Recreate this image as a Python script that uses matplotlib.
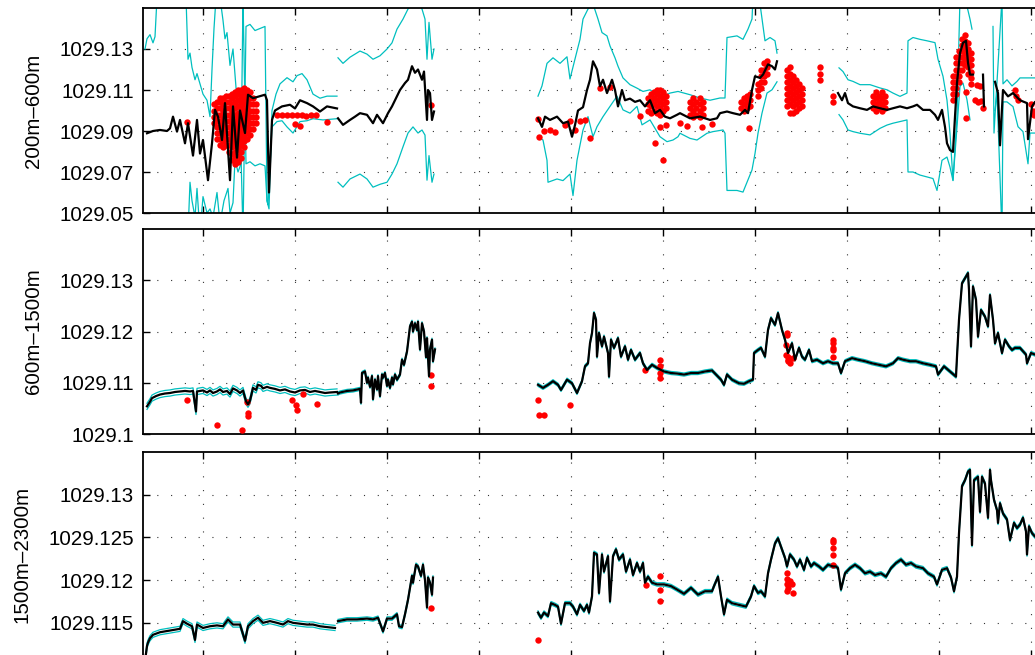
import numpy as np
import matplotlib
matplotlib.use("Agg")
import matplotlib.pyplot as plt

plt.rcParams['font.family'] = ['Liberation Sans', 'DejaVu Sans']

# Density values are stored as (rho - 1029) * 1000 ; x = profile number
BASE = 1029.0
xticks = [203, 295, 387, 479, 571, 663, 755, 847, 939, 1031]
xlim = (143, 1100)

CYAN = (0.0, 0.75, 0.75)

# ======================= Panel 1 : 200m-600m =======================
p1_label = '200m\u2013600m'
p1_ylim = (50, 150)
p1_yticks = [50, 70, 90, 110, 130]
p1_yticklabels = ['1029.05', '1029.07', '1029.09', '1029.11', '1029.13']

p1_tA = [147,153,160,167,170,173,177,180,185,188,193,197,200,203,208,212,215,218,222,225,
         230,233,237,240,245,248,253,260,265,267,269,272,275,282,290,295,300,307,313,320,327,337]
p1_bA = [88.9,90,90.5,90,91.3,97,89.7,95.4,84,93.8,78,95.4,79,85.6,66,84,100.3,97,85.6,103.6,
         66,102,77,100,89,107.7,106,107,107.7,105,60,95.4,100,102,102.8,101,105,103.6,102,99.5,102,101]
p1_uA_t = [145,147,150,153,155,157,160,167,170,175,182,186,188,190,192,195,197,200,203,207,
           210,212,214,216,220,223,225,227,230,233,237,240,243,246,250,255,260,265,267,269,
           272,276,280,287,293,297,302,307,313,320,327,337]
p1_uA = [130,135,137,133,136,155,155,154,155,155,155,155,125,128,121,115,118,113,108,105,
         97,120,140,155,155,144,135,138,122,130,105,97,40,141,142,139,140,141,56,52,
         100,108,113,116,114,117,118,115,108,106,107,107]
p1_lA_t = [145,160,175,188,190,192,195,197,200,203,207,210,213,217,220,224,228,230,233,235,
           238,241,243,246,250,255,260,265,267,268,272,277,282,287,293,300,307,313,323,337]
p1_lA = [40,40,40,40,65,56,48,62,40,58,50,52,48,60,45,56,62,50,55,76,
         70,74,155,74,75,73,74,73,56,54,92,94.6,95,92,89,94.6,95,96,95.4,96]

p1_tB = [338,343,350,355,360,367,373,377,383,388,392,395,400,405,408,412,415,418,422,424,427,428,430,432,434]
p1_bB = [96.2,93,95.4,97,98.7,97.9,93.8,97.9,93.8,98.7,102,105,110,113.4,115,121.6,118.4,120,115,119,95.4,110,108.5,95.4,99.5]
p1_cB_t = [338,343,350,360,367,373,380,387,392,397,403,408,413,418,422,425,427,429,432,434]
p1_uB = [125.7,123,126,129,127.5,125,126.7,130,133,139.7,144.6,149.5,152,152,149.5,144.6,125,143,125,130]
p1_lB = [65,62.6,66.6,69,66.6,62.6,64,65,69,74,82.3,89,92,89,90.5,88,66,78,65,69]

p1_tC = [538,542,545,550,557,563,568,572,575,578,583,587,590,593,597,600,603,607,612,615,
         618,622,625,630,635,640,645,650,655,660,665,670,677,680,690,700,710,717,720,727,
         733,740,745,748,752,755,760,763,768,772,775,777]
p1_bC = [96.2,92,97,95.4,97,93.8,94.6,87.2,92.9,100,101.6,110,115,124,120,111.8,115,108.5,115,110,
         102,110,105,105.8,104.2,105,102,105,98.7,100.3,97,96.2,97.9,98.7,96.2,97,95.4,96.2,98.7,99.5,
         98.7,97.9,100.3,98.7,110,116.7,115.9,117.5,122.5,121.6,120,124]
p1_uC_t = [538,542,547,553,560,567,570,577,580,583,588,593,598,602,607,610,615,618,623,630,
           637,643,650,657,663,670,678,690,700,710,720,725,727,737,743,748,752,753,760,765,770,775,777]
p1_uC = [107,112,123,125.7,123,126.2,115.4,129,134.7,144.6,149.5,152,144.6,138,136.4,131.5,125.7,121.6,115.9,112.6,
         110.9,109.3,110.1,107.7,106.9,108.5,109.3,107.7,106.1,105,106.1,106.1,135.6,136.4,134.7,139.7,144.6,155,152,134,
         135.6,134,128]
p1_lC_t = [538,543,547,548,557,563,570,573,577,583,588,593,597,603,610,617,623,630,637,642,
           650,660,667,673,678,680,690,697,707,713,723,725,727,737,743,747,752,755,758,762,767,772,777]
p1_lC = [87.2,85.6,75.7,65,66.6,65.8,69,58.5,75.7,90.5,97,87.2,92.1,97,102,107,100.3,98.7,102,93,
         95.4,87.2,84.8,85.6,87.2,88.9,86.4,85.6,88.9,89.7,90.5,88.9,61,61,60.2,65,71,79,88.9,98.7,
         108.5,110.1,114]

p1_tD = [838,842,845,848,853,860,867,873,880,887,893,900,907,913,917,923,930,935,938,942,
         945,947,950,953,955,957,960,963,966,968,970,973]
p1_bD = [108.5,105,108.5,103.6,102,101.1,100.3,102,101.1,100.3,101.1,102,101.1,102,102.8,100.3,100.3,97.9,95.4,100.3,
         92,84,80.7,79.8,97,113.4,128,133,134,123.3,117.5,117.5]
p1_uD_t = [839,843,848,853,860,870,880,887,893,900,907,908,913,920,927,935,938,943,947,950,953,957,960,965,970,972]
p1_uD = [120.8,119,115,114.2,112.6,112.6,111,110.1,108.5,106.9,108.5,134,135.6,134.7,134,133.1,125,116.7,105,88.9,
         66,97,155,155,144.6,139.7]
p1_lD_t = [839,843,848,853,860,870,880,887,893,900,907,908,913,920,927,933,937,942,947,950,953,957,960,963,967,970]
p1_lD = [98,95.4,90.5,89.7,88.9,88.1,91.3,92.9,93.8,94.6,95.4,70,70,68.5,67.6,66.8,61,75.7,77.3,72.4,
         65.8,92.1,111.8,113.4,105.2,95.4]

p1_tE = [983, 984]
p1_bE = [117.5, 102]

p1_tF = [995,998,1000,1003,1008,1013,1020,1027,1028,1032,1035,1040]
p1_bF = [114,108.5,83,110,106.9,108.5,105,103.6,86,102,104.2,104]
p1_uF_t = [993,994,997,1002,1003,1007,1012,1017,1020,1027,1035,1040]
p1_uF = [141,89,114,155,113,115,112,114.2,115.9,115.9,115.9,116]
p1_lF_t = [995,997,1002,1003,1007,1013,1018,1023,1028,1030,1035,1040]
p1_lF = [100,108.5,40,104.2,104.2,101.9,92.1,89.7,74,89,89,89]

p1_red = [
    (187, [94.6]), (277, [97.9]), (282, [97.9]), (287, [97.9]), (292, [98.0]), (295, [93.4]),
    (297, [97.9]), (300, [92.5]), (302, [97.9]), (306, [97.5]), (311, [97.9]), (316, [97.9]),
    (327, [94.6]), (431, [102.8]),
    (214, [94, 97, 100, 103]),
    (217, [86, 89, 92, 95, 98, 101, 104]),
    (220, [83, 86, 89, 92, 95, 98, 101, 104, 106]),
    (223, [82, 85, 88, 91, 94, 97, 100, 103, 106]),
    (226, [83, 86, 89, 92, 95, 98, 101, 104, 107]),
    (229, [80, 83, 86, 89, 92, 95, 98, 101, 104, 107]),
    (232, [76, 79, 82, 85, 88, 91, 94, 97, 100, 103, 106, 108]),
    (235, [74, 77, 80, 83, 86, 89, 92, 95, 98, 101, 104, 107, 109]),
    (238, [75, 78, 81, 84, 87, 90, 93, 96, 99, 102, 105, 108, 110]),
    (241, [77, 80, 83, 86, 89, 92, 95, 98, 101, 104, 107, 110]),
    (244, [82, 85, 88, 91, 94, 97, 100, 103, 106, 109, 111]),
    (247, [86, 89, 92, 95, 98, 101, 104, 107, 110]),
    (250, [88, 91, 94, 97, 100, 103, 106, 109]),
    (253, [91, 94, 97, 100, 103, 106]),
    (256, [94, 97, 100, 103]),
    (538, [96]), (539, [87]), (544, [90]), (550, [90.5]), (555, [89.5]), (565, [93]), (570, [95]),
    (575, [90.5]), (580, [95]), (585, [95.5]), (590, [86.4]), (600, [111]), (610, [111.5]),
    (640, [97.5]), (655, [84]), (663, [75.7]),
    (648, [100, 103, 106]), (651, [99, 102, 105, 108]), (654, [100, 103, 106, 109]),
    (657, [99, 102, 105, 108, 110]), (660, [92, 98, 101, 104, 107, 110]), (663, [100, 103, 106, 109]),
    (666, [93, 101, 104, 107]),
    (680, [94]), (687, [92.4]), (690, [98, 101, 104]), (693, [97, 100, 103, 106]), (696, [98, 101, 104]),
    (700, [97, 100, 103, 106]), (702, [92]), (703, [98, 101, 104]), (712, [93.4]),
    (741, [101, 104]), (744, [100, 103, 106]), (747, [101, 104, 107]), (749, [91.3]), (750, [102, 105, 108]),
    (758, [107, 110, 113]), (761, [111, 114, 117, 120]), (764, [114, 117, 120, 123]), (767, [118, 121, 124]),
    (787, [102, 105, 108, 111, 114, 117, 120]), (790, [99, 103, 106, 109, 112, 115, 118, 121]),
    (793, [99, 102, 105, 108, 111, 114, 117]), (796, [100, 103, 106, 109, 112, 115]),
    (799, [101, 104, 107, 110, 113]), (802, [102, 105, 108, 111]),
    (820, [115, 118, 121]), (833, [104, 107]),
    (873, [101, 104, 107]), (876, [100, 103, 106, 109]), (879, [101, 104, 107]),
    (882, [100, 103, 106, 109]), (885, [101, 104, 107]),
    (953, [105, 108, 111, 114, 117]), (956, [108, 111, 114, 117, 120, 123, 126]),
    (959, [114, 117, 120, 123, 126, 129]), (962, [120, 123, 126, 129, 132, 135]),
    (965, [122, 125, 128, 131, 134, 137]), (968, [118, 121, 124, 127, 130, 133]),
    (971, [113, 116, 119, 122, 125, 128]),
    (966, [96.4, 109]), (975, [105]), (977, [112.5]), (978, [104]), (980, [112]), (981, [104.5]), (983, [101]),
    (1015, [110]), (1016, [107]), (1018, [105]), (1031, [103]), (1033, [100]), (1034, [98]),
]

# ======================= Panel 2 : 600m-1500m =======================
p2_label = '600m\u20131500m'
p2_ylim = (100, 140)
p2_yticks = [100, 110, 120, 130]
p2_yticklabels = ['1029.1', '1029.11', '1029.12', '1029.13']

p2_tA = [147,150,152,156,160,165,170,175,180,185,190,193,196,197,200,203,207,210,213,217,
         220,223,227,230,233,237,240,243,246,248,250,253,256,258,261,263,267,270,275,280,
         285,290,295,300,305,310,315,320,325,330,337]
p2_bA = [105.4,106.3,107,107.4,107.7,107.9,108,108.2,108.3,108.4,108.3,108.4,104.4,108.3,108.4,108.5,108.1,108.5,108,108.3,
         108.7,108.2,108.4,107.8,108.9,108.5,108,108.5,106.4,105.8,106.5,109,108.6,109.6,109.4,108.9,109.2,109,108.8,108.5,
         108.7,108.3,108.1,108.5,108.6,108.2,108.4,108.2,108,108.1,108.2]
p2_errA = 0.6

p2_tB = [338,340,347,353,360,361,362,365,367,368,370,372,373,375,377,378,380,382,383,385,
         387,388,390,392,393,395,397,400,402,404,407,408,410,412,413,415,417,418,420,422,
         424,426,427,429,430,432,433,435]
p2_bB = [107.9,108.1,108.4,108.5,108.8,106.1,111.9,112.2,110,111,109.2,111.3,106.8,110.6,108.7,111.3,107.4,111.6,111,111.9,
         109.4,110.6,109,111,109.7,111.6,110.6,111.6,114.5,113.5,116.1,117.7,121,121.9,120,121.6,120.3,121.9,116.5,121.6,
         120,115,118.7,111.3,116.5,118.4,114.2,116.5]
p2_errB = 0.3

p2_tC = [538,543,548,553,558,561,567,572,577,582,585,588,590,592,594,596,597,599,602,604,
         608,609,611,614,618,621,625,628,631,635,640,643,647,652,657,664,671,677,684,691,
         698,705,712,718,721,724,727,732,739,744,749,753,754,758,761,765,768,771,775,778,
         782,785,788,792,795,799,802,805,809,812,817,823,828,833,838,841,845,852,858,865,
         872,879,886,893,898,903,910,916,923,930,936,938,944,950,956,957,959,962,965,968,
         969,971,973,976,978,981,985,988,990,993,995,998,1002,1005,1009,1012,1015,1020,1026,1027,
         1031,1035,1040]
p2_bC = [109.6,109.0,109.6,110.3,109.6,108.6,110.6,109.9,108.0,110.3,113.2,113.8,117.7,119.7,123.6,122.3,115.1,119.7,117.1,119.0,
         115.8,111.2,118.4,116.8,118.7,115.1,117.1,114.5,116.4,114.5,115.8,113.8,112.5,113.5,112.9,112.2,111.9,111.8,111.6,111.9,
         111.9,112.2,112.4,111.2,110.6,109.6,111.6,110.6,109.9,109.8,110.3,110.6,115.8,116.4,116.8,115.1,120.3,122.6,121.3,123.6,
         120.3,118.4,115.8,117.7,114.5,116.8,115.1,114.5,116.4,114.2,114.5,113.8,114.2,113.8,113.8,111.9,114.2,114.8,114.5,114.2,
         113.8,113.5,113.2,113.8,114.8,114.5,114.2,114.2,113.8,113.5,113.2,111.6,113.2,112.2,111.2,115.1,122.3,129.4,130.4,131.4,
         128.1,117.1,128.8,126.2,119.0,124.2,122.9,121.0,127.1,122.3,117.7,119.7,115.8,118.4,117.1,116.4,116.8,116.8,115.5,113.8,
         115.8,115.5,115.5]
p2_errC = 0.3

p2_red = [
    (187, [106.7]), (217, [101.7]), (242, [100.8]), (247, [106.2]), (248, [104.1, 103.6]),
    (292, [106.7]), (296, [105.7]), (297, [104.7]), (303, [107.9]), (317, [105.9]),
    (431, [111.5, 109.3]),
    (538, [106.7]), (539, [103.8]), (544, [103.8]), (570, [105.6]), (645, [112.5]),
    (660, [114.5, 113.2, 111.9, 110.9]),
    (786, [117.4, 115.5]), (787, [119.4, 119.7]), (788, [114.5, 114.2, 115.1]), (790, [113.8]), (793, [114.8]),
    (833, [118.4, 117.7, 116.8, 116.4, 115.1]),
]

# ======================= Panel 3 : 1500m-2300m =======================
p3_label = '1500m\u20132300m'
p3_ylim = (111.0, 135.0)
p3_yticks = [115, 120, 125, 130]
p3_yticklabels = ['1029.115', '1029.12', '1029.125', '1029.13']

p3_tA = [145,147,148,150,153,160,170,180,183,187,192,195,197,203,210,217,223,228,233,240,
         245,248,253,258,263,270,277,283,288,293,300,307,313,320,327,335]
p3_bA = [110.5,112.3,112.7,113.2,113.6,113.9,114.1,114.3,115.2,114.9,114.6,113,114.8,114.4,114.6,114.7,114.6,115.4,114.8,114.8,
         112.9,114.6,115.2,115.6,115,115.2,115,114.8,115.2,115,114.9,114.8,114.8,114.6,114.5,114.4]
p3_errA = 0.3

p3_tB = [338,347,357,367,373,378,383,387,392,397,399,402,405,408,412,413,416,418,421,423,425,427,428,430,432,433]
p3_bB = [115.2,115.4,115.4,115.5,115.4,115.6,114,115.5,115.5,116,114.6,114.5,116,117.7,120.5,119.7,121.8,121.6,120.5,121.8,
         120,116.8,120.3,119.7,118.3,120.3]
p3_errB = 0.2

p3_tC = [538,541,544,548,551,555,558,561,565,570,573,577,580,584,587,589,592,594,597,599,
         602,604,608,610,613,616,619,623,626,630,633,637,640,643,645,648,652,657,664,671,
         677,684,691,698,705,712,714,718,721,724,727,732,739,746,751,754,758,761,765,768,
         771,775,778,782,785,787,790,794,797,800,804,807,811,814,819,823,828,833,836,838,
         841,845,850,855,860,865,870,875,881,886,891,896,901,906,911,916,923,928,934,937,
         942,947,951,954,957,959,962,965,968,970,972,974,978,980,982,985,988,990,991,994,
         997,998,1000,1003,1007,1010,1014,1017,1020,1023,1026,1027,1029,1032,1035,1040]
p3_bC = [116.2,115.6,116.2,115.8,117.3,117.1,116.9,114.9,117.3,117.3,116.9,116.0,117.1,116.4,117.1,116.2,118.1,123.2,123.0,118.5,
         123.0,121.0,122.8,117.5,122.8,123.6,122.4,123.0,121.0,122.4,120.6,122.0,121.0,122.0,119.7,120.4,119.7,119.5,119.5,119.3,
         118.9,118.4,119.1,118.3,118.7,118.7,119.3,120.4,118.1,116.0,117.7,117.3,117.1,116.9,118.1,119.3,118.5,118.7,118.1,120.8,
         122.4,124.3,124.9,123.6,122.6,121.6,123.0,122.4,121.6,122.4,121.2,122.6,121.6,122.0,121.6,121.2,121.8,121.6,121.6,121.4,
         118.9,120.8,121.4,121.8,121.4,120.8,121.0,120.6,120.8,120.4,121.4,122.0,122.4,121.8,122.0,121.6,121.4,120.8,120.4,119.5,
         121.2,121.4,120.3,118.7,120.4,125.5,131.0,131.7,132.7,132.9,124.1,131.7,132.1,128.0,132.1,131.3,127.3,132.9,131.7,129.4,
         128.2,126.7,129.0,127.8,127.1,124.7,126.7,126.1,126.5,127.3,125.7,123.0,126.3,125.5,125.1,125.0]
p3_errC = 0.2

p3_red = [
    (431, [116.7]), (538, [113.0]), (646, [119.4]), (660, [120.5, 118.9, 117.6]),
    (787, [120.8, 120.1, 119.5, 118.7]), (788, [119.1]), (790, [119.9]), (792, [119.5]), (793, [118.5]),
    (833, [124.7, 124.5, 123.8, 123.0, 121.8]),
]


def dens(v):
    return BASE + np.asarray(v, dtype=float) / 1000.0


def flatten(cols):
    xs, ys = [], []
    for x, vals in cols:
        for v in vals:
            xs.append(x)
            ys.append(v)
    return xs, dens(ys)


FS = 14.8
fig = plt.figure(figsize=(10.35, 6.55), dpi=100)
W = 1035.0
H = 655.0
ax_left = 143 / W
ax_width = (1100 - 143) / W
panel_px = [(8, 213), (229, 434), (452, 657)]
axes = []
for top, bot in panel_px:
    axes.append(fig.add_axes([ax_left, (H - bot) / H, ax_width, (bot - top) / H]))


def style(ax, ylim, yticks, ylabels, label, lab_x):
    ax.set_xlim(*xlim)
    ax.set_ylim(dens(ylim[0]), dens(ylim[1]))
    ax.set_xticks(xticks)
    ax.set_yticks(dens(yticks))
    ax.set_yticklabels(ylabels, fontsize=FS)
    ax.tick_params(axis='both', direction='in', length=5, width=1.0, top=True, right=True,
                   labelbottom=False, pad=6.5)
    ax.grid(True, color='0.2', linestyle=(0, (1, 11.4)), linewidth=0.8)
    for s in ax.spines.values():
        s.set_linewidth(1.3)
    ax.set_ylabel(label, fontsize=FS)
    ax.yaxis.set_label_coords(lab_x, 0.5)


ax1, ax2, ax3 = axes

# ---- panel 1
for t, u in [(p1_uA_t, p1_uA), (p1_cB_t, p1_uB), (p1_uC_t, p1_uC), (p1_uD_t, p1_uD), (p1_uF_t, p1_uF)]:
    ax1.plot(t, dens(u), color=CYAN, lw=0.9, zorder=2)
for t, l in [(p1_lA_t, p1_lA), (p1_cB_t, p1_lB), (p1_lC_t, p1_lC), (p1_lD_t, p1_lD), (p1_lF_t, p1_lF)]:
    ax1.plot(t, dens(l), color=CYAN, lw=0.9, zorder=2)
rx, ry = flatten(p1_red)
ax1.plot(rx, ry, 'o', color='r', ms=4.6, mec='none', zorder=3)
for t, b in [(p1_tA, p1_bA), (p1_tB, p1_bB), (p1_tC, p1_bC), (p1_tD, p1_bD), (p1_tE, p1_bE), (p1_tF, p1_bF)]:
    ax1.plot(t, dens(b), color='k', lw=1.6, zorder=4)
style(ax1, p1_ylim, p1_yticks, p1_yticklabels, p1_label, -0.105)

# ---- panels 2 and 3 (mean +/- spread)
def band_panel(ax, segs, red):
    for t, b, e in segs:
        b = np.asarray(b, dtype=float)
        ax.plot(t, dens(b + e), color=CYAN, lw=0.9, zorder=2)
        ax.plot(t, dens(b - e), color=CYAN, lw=0.9, zorder=2)
    x, y = flatten(red)
    ax.plot(x, y, 'o', color='r', ms=4.6, mec='none', zorder=3)
    for t, b, e in segs:
        ax.plot(t, dens(b), color='k', lw=1.6, zorder=4)


band_panel(ax2, [(p2_tA, p2_bA, p2_errA), (p2_tB, p2_bB, p2_errB), (p2_tC, p2_bC, p2_errC)], p2_red)
style(ax2, p2_ylim, p2_yticks, p2_yticklabels, p2_label, -0.105)

band_panel(ax3, [(p3_tA, p3_bA, p3_errA), (p3_tB, p3_bB, p3_errB), (p3_tC, p3_bC, p3_errC)], p3_red)
style(ax3, p3_ylim, p3_yticks, p3_yticklabels, p3_label, -0.116)

fig.savefig('out.png', dpi=100)
